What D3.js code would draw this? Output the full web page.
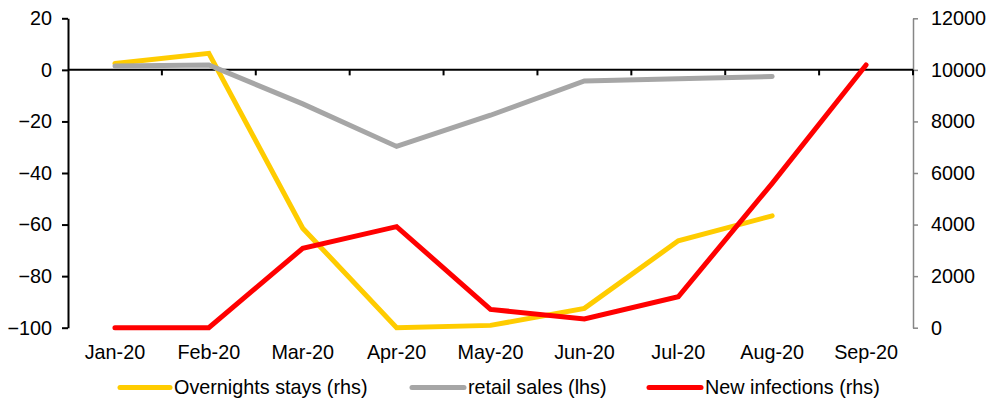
<!DOCTYPE html>
<html>
<head>
<meta charset="utf-8">
<script src="https://cdn.jsdelivr.net/npm/d3@7"></script>
<style>
  html, body { margin: 0; padding: 0; background: #fff; }
  svg { display: block; font-family: "Liberation Sans", Arial, sans-serif; }
</style>
</head>
<body>
<svg id="chart" width="1000" height="398"></svg>
<script>
// Categories (months)
const months = ["Jan-20", "Feb-20", "Mar-20", "Apr-20", "May-20", "Jun-20", "Jul-20", "Aug-20", "Sep-20"];

// Overnight stays, right-hand scale
const overnightStays = [10250, 10640, 3860, 0, 90, 750, 3370, 4340, null];
// Retail sales, left-hand scale (% y/y)
const retailSales = [1.5, 1.9, -13.2, -29.7, -17.6, -4.3, -3.4, -2.6, null];
// New infections, right-hand scale
const newInfections = [0, 0, 3080, 3920, 710, 340, 1200, 5600, 10190];

// Axis ticks
const leftTicks = [-100, -80, -60, -40, -20, 0, 20];
const rightTicks = [0, 2000, 4000, 6000, 8000, 10000, 12000];

const series = [
  { name: "Overnights stays (rhs)", values: overnightStays, axis: "right", color: "#FFCC00" },
  { name: "retail sales (lhs)", values: retailSales, axis: "left", color: "#A6A6A6" },
  { name: "New infections (rhs)", values: newInfections, axis: "right", color: "#FF0000" }
];

const svg = d3.select("#chart");
const plotLeft = 68, plotRight = 913, plotTop = 18.3, plotBottom = 327.7;
const fontSize = "19.8px";

const x = d3.scaleBand().domain(months).range([plotLeft, plotRight]).padding(0);
const yL = d3.scaleLinear().domain([-100, 20]).range([plotBottom, plotTop]);
const yR = d3.scaleLinear().domain([0, 12000]).range([plotBottom, plotTop]);

// Left axis
const gL = svg.append("g")
  .attr("transform", `translate(${plotLeft},0)`)
  .call(d3.axisLeft(yL).tickValues(leftTicks).tickSize(6).tickPadding(10).tickSizeOuter(0));
gL.select(".domain").attr("stroke", "#000").attr("stroke-width", 2);
gL.selectAll(".tick line").attr("stroke", "#000").attr("stroke-width", 2);
gL.selectAll(".tick text").attr("font-size", fontSize).attr("fill", "#000")
  .attr("font-family", "Liberation Sans, Arial, sans-serif");

// Right axis
const gR = svg.append("g")
  .attr("transform", `translate(${plotRight},0)`)
  .call(d3.axisRight(yR).tickValues(rightTicks).tickSize(5).tickPadding(13).tickSizeOuter(0)
    .tickFormat(d3.format("d")));
gR.select(".domain").attr("stroke", "#868686").attr("stroke-width", 1.5);
gR.selectAll(".tick line").attr("stroke", "#868686").attr("stroke-width", 1.5);
gR.selectAll(".tick text").attr("font-size", fontSize).attr("fill", "#000")
  .attr("font-family", "Liberation Sans, Arial, sans-serif");

// Category labels along the bottom
const gX = svg.append("g")
  .attr("transform", `translate(0,${plotBottom})`)
  .call(d3.axisBottom(x).tickSize(0).tickPadding(17.5));
gX.select(".domain").remove();
gX.selectAll(".tick text").attr("font-size", fontSize).attr("fill", "#000")
  .attr("font-family", "Liberation Sans, Arial, sans-serif");

// Zero line with boundary tick marks
const zeroY = yL(0);
const gZ = svg.append("g");
gZ.append("line")
  .attr("x1", plotLeft).attr("x2", plotRight)
  .attr("y1", zeroY).attr("y2", zeroY)
  .attr("stroke", "#000").attr("stroke-width", 2);
const boundaries = months.map(m => x(m)).slice(1).concat([x.range()[1]]);
gZ.selectAll("line.bt").data(boundaries).join("line")
  .attr("class", "bt")
  .attr("x1", d => d).attr("x2", d => d)
  .attr("y1", zeroY).attr("y2", zeroY + 5.5)
  .attr("stroke", "#000").attr("stroke-width", 2);

// Series lines
const cx = m => x(m) + x.bandwidth() / 2;
series.forEach(s => {
  const yScale = s.axis === "left" ? yL : yR;
  const line = d3.line()
    .defined(d => d.v !== null)
    .x(d => cx(d.m))
    .y(d => yScale(d.v));
  svg.append("path")
    .datum(months.map((m, i) => ({ m, v: s.values[i] })))
    .attr("fill", "none")
    .attr("stroke", s.color)
    .attr("stroke-width", 5)
    .attr("stroke-linecap", "round")
    .attr("stroke-linejoin", "miter")
    .attr("d", line);
});

// Legend
const legendItems = [
  { x1: 120, x2: 170, tx: 174 },
  { x1: 412, x2: 464, tx: 468 },
  { x1: 649, x2: 701, tx: 705 }
];
const legendY = 387.5;
const gLeg = svg.append("g");
series.forEach((s, i) => {
  const p = legendItems[i];
  gLeg.append("line")
    .attr("x1", p.x1).attr("x2", p.x2)
    .attr("y1", legendY).attr("y2", legendY)
    .attr("stroke", s.color).attr("stroke-width", 5)
    .attr("stroke-linecap", "round");
  gLeg.append("text")
    .attr("x", p.tx).attr("y", 394)
    .attr("font-size", fontSize)
    .attr("fill", "#000")
    .text(s.name);
});
</script>
</body>
</html>
